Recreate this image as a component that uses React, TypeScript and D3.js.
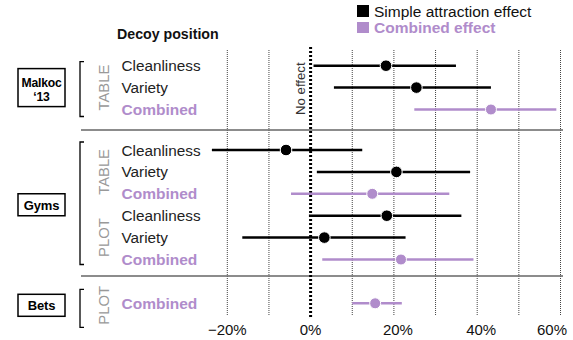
import React from "react";
import * as d3 from "d3";

const rowLabels = ["Cleanliness", "Variety", "Combined", "Cleanliness", "Variety", "Combined", "Cleanliness", "Variety", "Combined", "Combined"];
const rowStudy = ["Malkoc", "Malkoc", "Malkoc", "Gyms", "Gyms", "Gyms", "Gyms", "Gyms", "Gyms", "Bets"];
const rowMethod = ["TABLE", "TABLE", "TABLE", "TABLE", "TABLE", "TABLE", "PLOT", "PLOT", "PLOT", "PLOT"];
const rowType = ["simple", "simple", "combined", "simple", "simple", "combined", "simple", "simple", "combined", "combined"];
const lows = [0.7, 5.6, 24.9, -23.7, 1.5, -4.7, -0.4, -16.4, 2.8, 10.0];
const mids = [18.1, 25.4, 43.3, -5.9, 20.6, 14.8, 18.3, 3.3, 21.7, 15.5];
const highs = [34.9, 43.3, 59.0, 12.4, 38.3, 33.3, 36.2, 22.8, 39.1, 21.9];
const studies = ["Malkoc", "Gyms", "Bets"];
const studyBoxLabels = [["Malkoc", "\u201813"], ["Gyms"], ["Bets"]];
const gridValues = [-20, -10, 10, 20, 30, 40, 50, 60];
const tickValues = [-20, 0, 20, 40, 60];
const legendLabels = ["Simple attraction effect", "Combined effect"];

// layout slots (vertical positions in row units)
const rowSlots = [0, 1, 2, 3.85, 4.85, 5.85, 6.85, 7.85, 8.85, 10.85];
const separatorSlots = [2.94, 9.6];
const bracketPad = [[4, 7], [8, 5], [14, 24]];

const BLACK = "#000";
const PURPLE = "#b08ccb";
const FONT = "'Liberation Sans', Arial, Helvetica, sans-serif";

export default function App() {
  const W = 573, H = 340;
  const x = d3.scaleLinear().domain([-20, 60]).range([227.3, 560.5]);
  const y = d3.scaleLinear().domain([0, 10.85]).range([65.7, 303.3]);
  const col = (t: string) => (t === "combined" ? PURPLE : BLACK);

  const studyRows = studies.map((s) => rowSlots.filter((_, i) => rowStudy[i] === s));
  const methodGroups: { method: string; slots: number[]; key: string }[] = [];
  rowSlots.forEach((s, i) => {
    const key = rowStudy[i] + rowMethod[i];
    const last = methodGroups[methodGroups.length - 1];
    if (last && last.key === key) last.slots.push(s);
    else methodGroups.push({ method: rowMethod[i], slots: [s], key });
  });

  const yTop = 47, yBot = 318;

  return (
    <svg width={W} height={H} style={{ position: "absolute", left: 0, top: 0, background: "#fff" }} fontFamily={FONT}>
      {/* Legend */}
      <rect x={357} y={5} width={12} height={12} fill={BLACK} />
      <text x={374} y={17} fontSize={15.5} fill="#111">{legendLabels[0]}</text>
      <rect x={357} y={22} width={12} height={11} fill={PURPLE} />
      <text x={374} y={33} fontSize={15.5} fontWeight="bold" fill={PURPLE}>{legendLabels[1]}</text>

      <text x={117} y={39} fontSize={14.2} fontWeight="bold" fill="#111">Decoy position</text>

      {/* grid */}
      {gridValues.map((v) => (
        <line key={v} x1={x(v)} x2={x(v)} y1={50} y2={316} stroke="#444" strokeWidth={1} strokeDasharray="1 1" />
      ))}
      {/* separators */}
      {separatorSlots.map((s) => (
        <line key={s} x1={81} x2={563} y1={y(s)} y2={y(s)} stroke="#666" strokeWidth={1.5} />
      ))}
      {/* zero line */}
      <line x1={x(0)} x2={x(0)} y1={yTop} y2={yBot} stroke="#000" strokeWidth={3} strokeDasharray="2 2" />
      <text transform={`translate(${x(0) - 6},${y(1.05)}) rotate(-90)`} textAnchor="middle" fontSize={13.2} fill="#333">No effect</text>

      {/* study boxes & brackets */}
      {studies.map((s, k) => {
        const slots = studyRows[k];
        const cy = y((slots[0] + slots[slots.length - 1]) / 2);
        const lines = studyBoxLabels[k];
        const bh = lines.length === 2 ? 38 : 22;
        const top = y(slots[0]) - bracketPad[k][0];
        const bot = y(slots[slots.length - 1]) + bracketPad[k][1];
        const boxCy = k === 2 ? y(slots[0]) + 2 : cy;
        return (
          <g key={s}>
            <rect x={18} y={boxCy - bh / 2} width={47} height={bh} fill="#fff" stroke="#000" strokeWidth={1.5} />
            {lines.map((l, j) => (
              <text key={j} x={41.5} y={boxCy - bh / 2 + (lines.length === 2 ? 18 + j * 14.5 : 16)} textAnchor="middle" fontSize={lines.length === 2 ? 12.2 : 13} fontWeight="bold" letterSpacing={-0.2} fill="#000">{l}</text>
            ))}
            <path d={`M84,${top}H80V${bot}H84`} fill="none" stroke="#000" strokeWidth={1.3} />
          </g>
        );
      })}

      {/* method labels */}
      {methodGroups.map((g, i) => {
        const cy = y((g.slots[0] + g.slots[g.slots.length - 1]) / 2) + (g.slots.length === 1 ? 2 : 0);
        return (
          <text key={i} transform={`translate(${109},${cy}) rotate(-90)`} textAnchor="middle" fontSize={14.8} fill="#999">{g.method}</text>
        );
      })}

      {/* row labels */}
      {rowLabels.map((l, i) => (
        <text key={i} x={121.5} y={y(rowSlots[i]) + 5.5} fontSize={rowType[i] === "combined" ? 15.5 : 15.3} fontWeight={rowType[i] === "combined" ? "bold" : "normal"} fill={rowType[i] === "combined" ? PURPLE : "#222"}>{l}</text>
      ))}

      {/* error bars */}
      {rowLabels.map((_, i) => {
        const yy = y(rowSlots[i]);
        const c = col(rowType[i]);
        return (
          <g key={i}>
            <line x1={x(lows[i])} x2={x(highs[i])} y1={yy} y2={yy} stroke={c} strokeWidth={2.5} />
            <circle cx={x(mids[i])} cy={yy} r={rowType[i] === "combined" ? 5.5 : 5.8} fill={c} stroke="#fff" strokeWidth={1} />
          </g>
        );
      })}

      {/* x tick labels */}
      {tickValues.map((v, i) => {
        const last = i === tickValues.length - 1;
        return (
          <text key={v} x={last ? 567 : x(v) + (v > 0 ? 4 : 0)} y={335} textAnchor={last ? "end" : "middle"} fontSize={15} fill="#111">{v < 0 ? `\u2212${Math.abs(v)}%` : `${v}%`}</text>
        );
      })}
    </svg>
  );
}
